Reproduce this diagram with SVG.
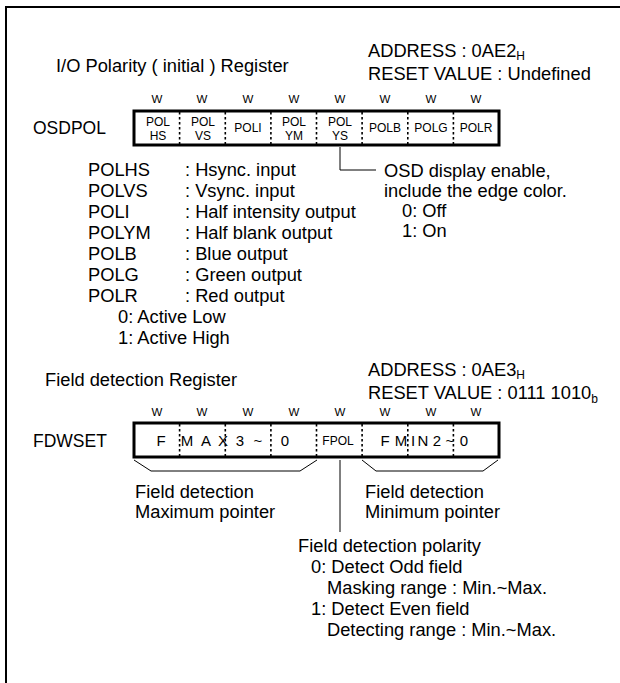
<svg xmlns="http://www.w3.org/2000/svg" width="620" height="683" viewBox="0 0 620 683">
<style>
text{font-family:"Liberation Sans",Arial,sans-serif;fill:#000}
.t{font-size:18.3px}
.g{font-size:17.5px}
.s{font-size:12px}
.w{font-size:11.5px;text-anchor:middle}
.c{font-size:12px;text-anchor:middle}
.f{font-size:15px;text-anchor:middle}
.box{fill:#fff;stroke:#000;stroke-width:3}
.div{stroke:#000;stroke-width:1.6;stroke-dasharray:2.5,2.5;fill:none}
.ln{stroke:#000;stroke-width:1;fill:none}
</style>
<rect width="620" height="683" fill="#fff"/>
<path d="M6,683 V7 H620" fill="none" stroke="#000" stroke-width="2"/>

<g id="osdpol">
<text class="t" x="368" y="57">ADDRESS : 0AE2<tspan class="s" dy="3">H</tspan></text>
<text class="t" x="56" y="72">I/O Polarity ( initial ) Register</text>
<text class="t" x="368" y="80">RESET VALUE : Undefined</text>
<text class="w" y="103"><tspan x="157">W</tspan><tspan x="202">W</tspan><tspan x="248">W</tspan><tspan x="294">W</tspan><tspan x="340">W</tspan><tspan x="385">W</tspan><tspan x="431">W</tspan><tspan x="476">W</tspan></text>
<text class="g" x="33" y="134">OSDPOL</text>
<rect class="box" x="134" y="111" width="365" height="34"/>
<path class="div" d="M179.6,112V144M225.3,112V144M270.9,112V144M316.5,112V144M362.1,112V144M407.8,112V144M453.4,112V144"/>
<text class="c" x="158" y="126">POL</text><text class="c" x="158" y="140">HS</text>
<text class="c" x="203" y="126">POL</text><text class="c" x="203" y="140">VS</text>
<text class="c" x="248" y="132">POLI</text>
<text class="c" x="294" y="126">POL</text><text class="c" x="294" y="140">YM</text>
<text class="c" x="340" y="126">POL</text><text class="c" x="340" y="140">YS</text>
<text class="c" x="385" y="132">POLB</text>
<text class="c" x="431" y="132">POLG</text>
<text class="c" x="476" y="132">POLR</text>
</g>

<g id="osdpol-desc">
<text class="t" x="384" y="177">OSD display enable,</text>
<text class="t" x="384" y="197">include the edge color.</text>
<text class="t" x="402" y="217">0: Off</text>
<text class="t" x="402" y="237">1: On</text>
</g>

<g id="legend">
<text class="t" y="176"><tspan x="88">POLHS</tspan><tspan x="185">: Hsync. input</tspan></text>
<text class="t" y="197"><tspan x="88">POLVS</tspan><tspan x="185">: Vsync. input</tspan></text>
<text class="t" y="218"><tspan x="88">POLI</tspan><tspan x="185">: Half intensity output</tspan></text>
<text class="t" y="239"><tspan x="88">POLYM</tspan><tspan x="185">: Half blank output</tspan></text>
<text class="t" y="260"><tspan x="88">POLB</tspan><tspan x="185">: Blue output</tspan></text>
<text class="t" y="281"><tspan x="88">POLG</tspan><tspan x="185">: Green output</tspan></text>
<text class="t" y="302"><tspan x="88">POLR</tspan><tspan x="185">: Red output</tspan></text>
<text class="t" x="118" y="323">0: Active Low</text>
<text class="t" x="118" y="344">1: Active High</text>
</g>

<g id="fdwset">
<text class="t" x="368" y="376">ADDRESS : 0AE3<tspan class="s" dy="3">H</tspan></text>
<text class="t" x="45" y="386">Field detection Register</text>
<text class="t" x="368" y="399">RESET VALUE : 0111 1010<tspan class="s" dy="4">b</tspan></text>
<text class="w" y="416"><tspan x="157">W</tspan><tspan x="202">W</tspan><tspan x="248">W</tspan><tspan x="294">W</tspan><tspan x="340">W</tspan><tspan x="385">W</tspan><tspan x="431">W</tspan><tspan x="476">W</tspan></text>
<text class="g" x="33" y="447">FDWSET</text>
<rect class="box" x="134" y="423" width="365" height="34"/>
<path class="div" d="M179.6,424V456M225.3,424V456M270.9,424V456M316.5,424V456M362.1,424V456M407.8,424V456M453.4,424V456"/>
<text class="f" x="161 187 206 223 240 258 285" y="446">FMAX3~0</text>
<text class="c" x="338" y="445">FPOL</text>
<text class="f" x="385 401 413 423 437 450 464" y="446">FMIN2~0</text>
</g>

<g id="connectors">
<path class="ln" d="M340,147 V170 H376"/>
<path class="ln" d="M134,460 L151,471 H300 L317,460"/>
<path class="ln" d="M362,460 L376,471 H483 L498,460"/>
<path class="ln" d="M340,460 V532"/>
</g>

<g id="fd-desc">
<text class="t" x="135" y="498">Field detection</text>
<text class="t" x="135" y="518">Maximum pointer</text>
<text class="t" x="365" y="498">Field detection</text>
<text class="t" x="365" y="518">Minimum pointer</text>
<text class="t" x="298" y="552">Field detection polarity</text>
<text class="t" x="311" y="573">0: Detect Odd field</text>
<text class="t" x="327" y="594">Masking range : Min.~Max.</text>
<text class="t" x="311" y="615">1: Detect Even field</text>
<text class="t" x="327" y="636">Detecting range : Min.~Max.</text>
</g>
</svg>
